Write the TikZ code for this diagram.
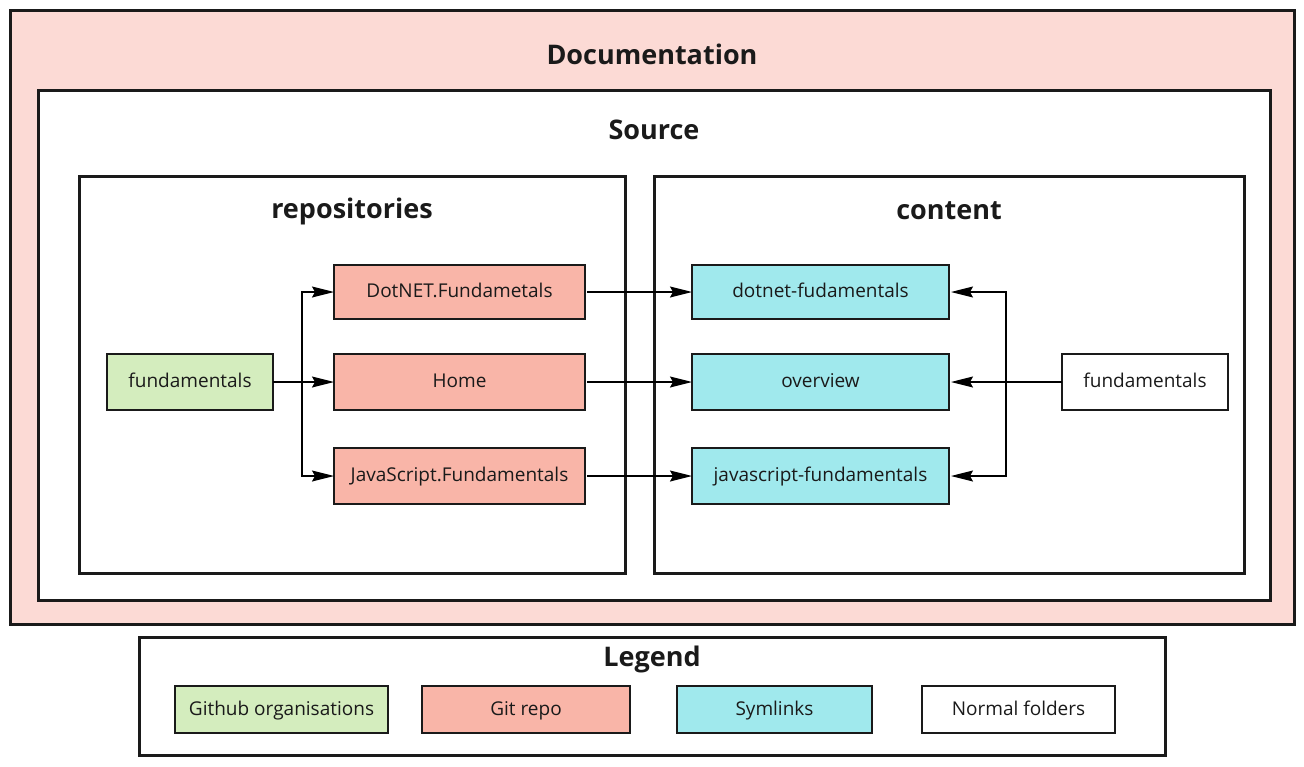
\documentclass[tikz,border=0pt]{standalone}
\usepackage{fontspec}
\setmainfont{Open Sans}
\usetikzlibrary{arrows.meta}

\definecolor{docpink}{HTML}{FCDAD5}
\definecolor{orggreen}{HTML}{D4EDBE}
\definecolor{repored}{HTML}{F9B5A8}
\definecolor{linkcyan}{HTML}{A0E9ED}
\definecolor{edge}{HTML}{1A1A1A}

\begin{document}
\begin{tikzpicture}[%
        x = 1pt,
        y = -1pt,
        > = {Stealth[length=22pt, width=11pt, inset=3pt]},
        every node/.style = {inner sep=0pt, outer sep=0pt},
        frame/.style = {draw=edge, line width=3pt},
        folder/.style = {draw=edge, line width=2.4pt, text height=14pt, text depth=3pt,
            font=\fontsize{19}{22}\selectfont, text=edge},
        heading/.style = {font=\fontsize{27}{32}\selectfont\bfseries, text=edge},
        link/.style = {->, line width=1.3pt}
    ]

        % Fix the page size.
        \useasboundingbox (0, 0) rectangle (1304, 766);

        % Nested containers.
        \node[frame, fill=docpink, minimum width=1284pt, minimum height=614pt] (doc) at (652, 317) {};
        \node[frame, fill=white, minimum width=1232pt, minimum height=510pt] (src) at (654, 345) {};
        \node[frame, fill=white, minimum width=546pt, minimum height=397pt] (repos) at (352, 374.5) {};
        \node[frame, fill=white, minimum width=590pt, minimum height=397pt] (cont) at (949, 374.5) {};
        \node[frame, fill=white, minimum width=1026pt, minimum height=118pt] (leg) at (652, 696) {};

        % Container titles.
        \node[heading] (doctitle) at (652, 54) {Documentation};
        \node[heading] (srctitle) at (654, 130) {Source};
        \node[heading] (repotitle) at (352, 211) {repositories};
        \node[heading] (conttitle) at (949, 211) {content};
        \node[heading] (legtitle) at (652, 659) {Legend};

        % Folders in repositories.
        \node[folder, fill=orggreen, minimum width=166pt, minimum height=56pt] (org) at (190, 382) {fundamentals};
        \node[folder, fill=repored, minimum width=251pt, minimum height=54pt] (dotnet) at (459.5, 292) {DotNET.Fundametals};
        \node[folder, fill=repored, minimum width=251pt, minimum height=56pt] (home) at (459.5, 382) {Home};
        \node[folder, fill=repored, minimum width=251pt, minimum height=56pt] (js) at (459.5, 476) {JavaScript.Fundamentals};

        % Folders in content.
        \node[folder, fill=linkcyan, minimum width=257pt, minimum height=54pt] (dotnetlink) at (820.5, 292) {dotnet-fudamentals};
        \node[folder, fill=linkcyan, minimum width=257pt, minimum height=56pt] (overview) at (820.5, 382) {overview};
        \node[folder, fill=linkcyan, minimum width=257pt, minimum height=56pt] (jslink) at (820.5, 476) {javascript-fundamentals};
        \node[folder, fill=white, minimum width=166pt, minimum height=56pt] (plain) at (1145, 382) {fundamentals};

        % Legend entries.
        \node[folder, fill=orggreen, minimum width=213pt, minimum height=47pt] (legorg) at (281.5, 709.5) {Github organisations};
        \node[folder, fill=repored, minimum width=208pt, minimum height=47pt] (legrepo) at (526, 709.5) {Git repo};
        \node[folder, fill=linkcyan, minimum width=195pt, minimum height=47pt] (leglink) at (774.5, 709.5) {Symlinks};
        \node[folder, fill=white, minimum width=193pt, minimum height=47pt] (legplain) at (1018.5, 709.5) {Normal folders};

        % Branch points.
        \coordinate (lsplit) at (302, 382);
        \coordinate (rsplit) at (1006, 382);

        % Organisation to repos.
        \draw[link] (org.east) to (home.west);
        \draw[link] (lsplit) |- (dotnet.west);
        \draw[link] (lsplit) |- (js.west);

        % Repos to symlinks.
        \draw[link] ([xshift=2pt]dotnet.east) to (dotnetlink.west);
        \draw[link] ([xshift=2pt]home.east) to (overview.west);
        \draw[link] ([xshift=2pt]js.east) to (jslink.west);

        % Normal folder to symlinks.
        \draw[link] (plain.west) to ([xshift=2pt]overview.east);
        \draw[link] (rsplit) |- ([xshift=2pt]dotnetlink.east);
        \draw[link] (rsplit) |- ([xshift=2pt]jslink.east);
    \end{tikzpicture}
\end{document}
